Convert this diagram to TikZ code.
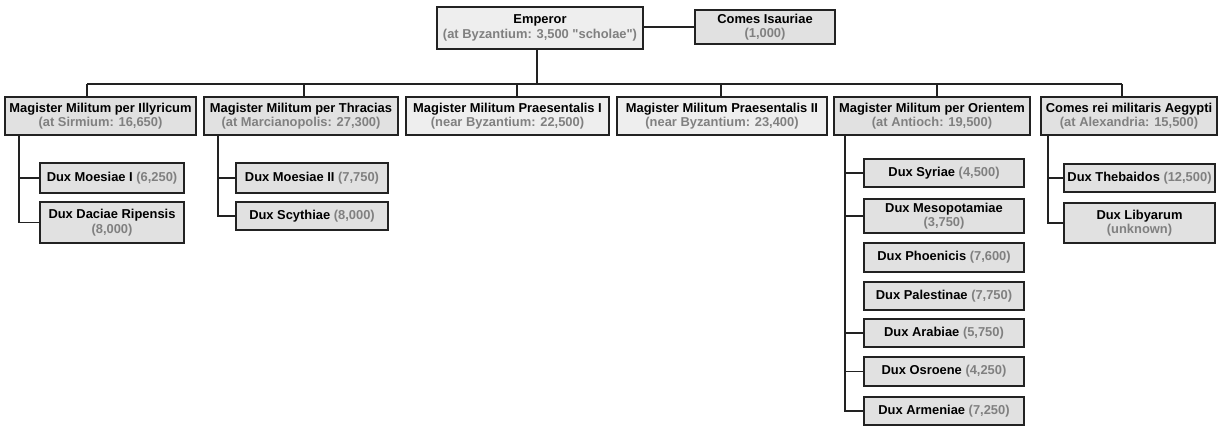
\documentclass[tikz,border=0pt]{standalone}
\usepackage{fontspec}
% a family declared this way keeps the straight ASCII double quote
\newfontfamily\labelfont{Liberation Sans}
\usetikzlibrary{shadows}
\definecolor{edge}{HTML}{222222}
\definecolor{subgray}{HTML}{808080}
\definecolor{boxfill}{HTML}{E1E1E1}
\definecolor{lightfill}{HTML}{EEEEEE}
\newcommand{\numtxt}[1]{\textcolor{subgray}{#1}}
\tikzset{
  orgbox/.style={draw=edge, line width=1.3pt, fill=boxfill, inner sep=0pt,
    align=center, font=\labelfont\fontsize{12.9}{14.6}\selectfont\bfseries,
    drop shadow={shadow xshift=1.2pt, shadow yshift=-1.2pt, fill=black, opacity=0.35}},
  lightbox/.style={orgbox, fill=lightfill},
  link/.style={draw=edge, line width=1.4pt}
}
\begin{document}
\begin{tikzpicture}[x=1pt, y=1pt]
\useasboundingbox (0,0) rectangle (1225,-426);

% top level
\node[lightbox, minimum width=206, minimum height=42] (emp) at (540,-28)
  {Emperor\\\numtxt{(at Byzantium: 3,500 "scholae")}};
\node[orgbox, minimum width=140, minimum height=34] (isa) at (765,-27)
  {Comes Isauriae\\\numtxt{(1,000)}};

% field commands
\node[orgbox, minimum width=191, minimum height=38] (ill) at (100.5,-116)
  {Magister Militum per Illyricum\\\numtxt{(at Sirmium: 16,650)}};
\node[orgbox, minimum width=194, minimum height=38] (thr) at (301,-116)
  {Magister Militum per Thracias\\\numtxt{(at Marcianopolis: 27,300)}};
\node[lightbox, minimum width=203, minimum height=38] (pr1) at (507.5,-116)
  {Magister Militum Praesentalis I\\\numtxt{(near Byzantium: 22,500)}};
\node[lightbox, minimum width=210, minimum height=38] (pr2) at (722,-116)
  {Magister Militum Praesentalis II\\\numtxt{(near Byzantium: 23,400)}};
\node[orgbox, minimum width=196, minimum height=38] (ori) at (932,-116)
  {Magister Militum per Orientem\\\numtxt{(at Antioch: 19,500)}};
\node[orgbox, minimum width=176, minimum height=38] (aeg) at (1129,-116)
  {Comes rei militaris Aegypti\\\numtxt{(at Alexandria: 15,500)}};

% duces under Illyricum
\node[orgbox, minimum width=144, minimum height=30] (moe1) at (112,-178)
  {Dux Moesiae I \numtxt{(6,250)}};
\node[orgbox, minimum width=144, minimum height=41] (dac) at (112,-222.5)
  {Dux Daciae Ripensis\\\numtxt{(8,000)}};

% duces under Thracias
\node[orgbox, minimum width=152, minimum height=30] (moe2) at (312,-178)
  {Dux Moesiae II \numtxt{(7,750)}};
\node[orgbox, minimum width=152, minimum height=28] (scy) at (312,-216)
  {Dux Scythiae \numtxt{(8,000)}};

% duces under Orientem
\node[orgbox, minimum width=160, minimum height=28] (syr) at (944,-173)
  {Dux Syriae \numtxt{(4,500)}};
\node[orgbox, minimum width=160, minimum height=34] (mes) at (944,-216)
  {Dux Mesopotamiae\\\numtxt{(3,750)}};
\node[orgbox, minimum width=160, minimum height=29] (pho) at (944,-257.5)
  {Dux Phoenicis \numtxt{(7,600)}};
\node[orgbox, minimum width=160, minimum height=28] (pal) at (944,-296)
  {Dux Palestinae \numtxt{(7,750)}};
\node[orgbox, minimum width=160, minimum height=28] (ara) at (944,-333)
  {Dux Arabiae \numtxt{(5,750)}};
\node[orgbox, minimum width=160, minimum height=29] (osr) at (944,-371.5)
  {Dux Osroene \numtxt{(4,250)}};
\node[orgbox, minimum width=160, minimum height=28] (arm) at (944,-411)
  {Dux Armeniae \numtxt{(7,250)}};

% duces under Aegyptus
\node[orgbox, minimum width=151, minimum height=28] (the) at (1139.5,-178)
  {Dux Thebaidos \numtxt{(12,500)}};
\node[orgbox, minimum width=151, minimum height=40] (lib) at (1139.5,-223)
  {Dux Libyarum\\\numtxt{(unknown)}};

% bus joints and trunk lines
\coordinate (b0) at (537,-84);
\coordinate (b1) at (87,-84);
\coordinate (b2) at (304,-84);
\coordinate (b3) at (517,-84);
\coordinate (b4) at (721,-84);
\coordinate (b5) at (937,-84);
\coordinate (b6) at (1122,-84);
\coordinate (tIll) at (19,-135);
\coordinate (tThr) at (218,-135);
\coordinate (tOri) at (845,-135);
\coordinate (tAeg) at (1048,-135);

\path[link] (isa.west) -- (isa.west -| emp.east);
\path[link] (b0 |- emp.south) -- (b0);
\path[link] (b1) -- (b6);
\foreach \b/\n in {b1/ill, b2/thr, b3/pr1, b4/pr2, b5/ori, b6/aeg}
  \path[link] (\b) -- (\b |- \n.north);

% Illyricum
\path[link] (tIll) |- (dac.west);
\path[link] (tIll |- moe1.west) -- (moe1.west);
% Thracias
\path[link] (tThr) |- (scy.west);
\path[link] (tThr |- moe2.west) -- (moe2.west);
% Orientem
\path[link] (tOri) |- (arm.west);
\foreach \n in {syr, mes, ara, osr}
  \path[link] (tOri |- \n.west) -- (\n.west);
% Aegyptus
\path[link] (tAeg) |- (lib.west);
\path[link] (tAeg |- the.west) -- (the.west);
\end{tikzpicture}
\end{document}
